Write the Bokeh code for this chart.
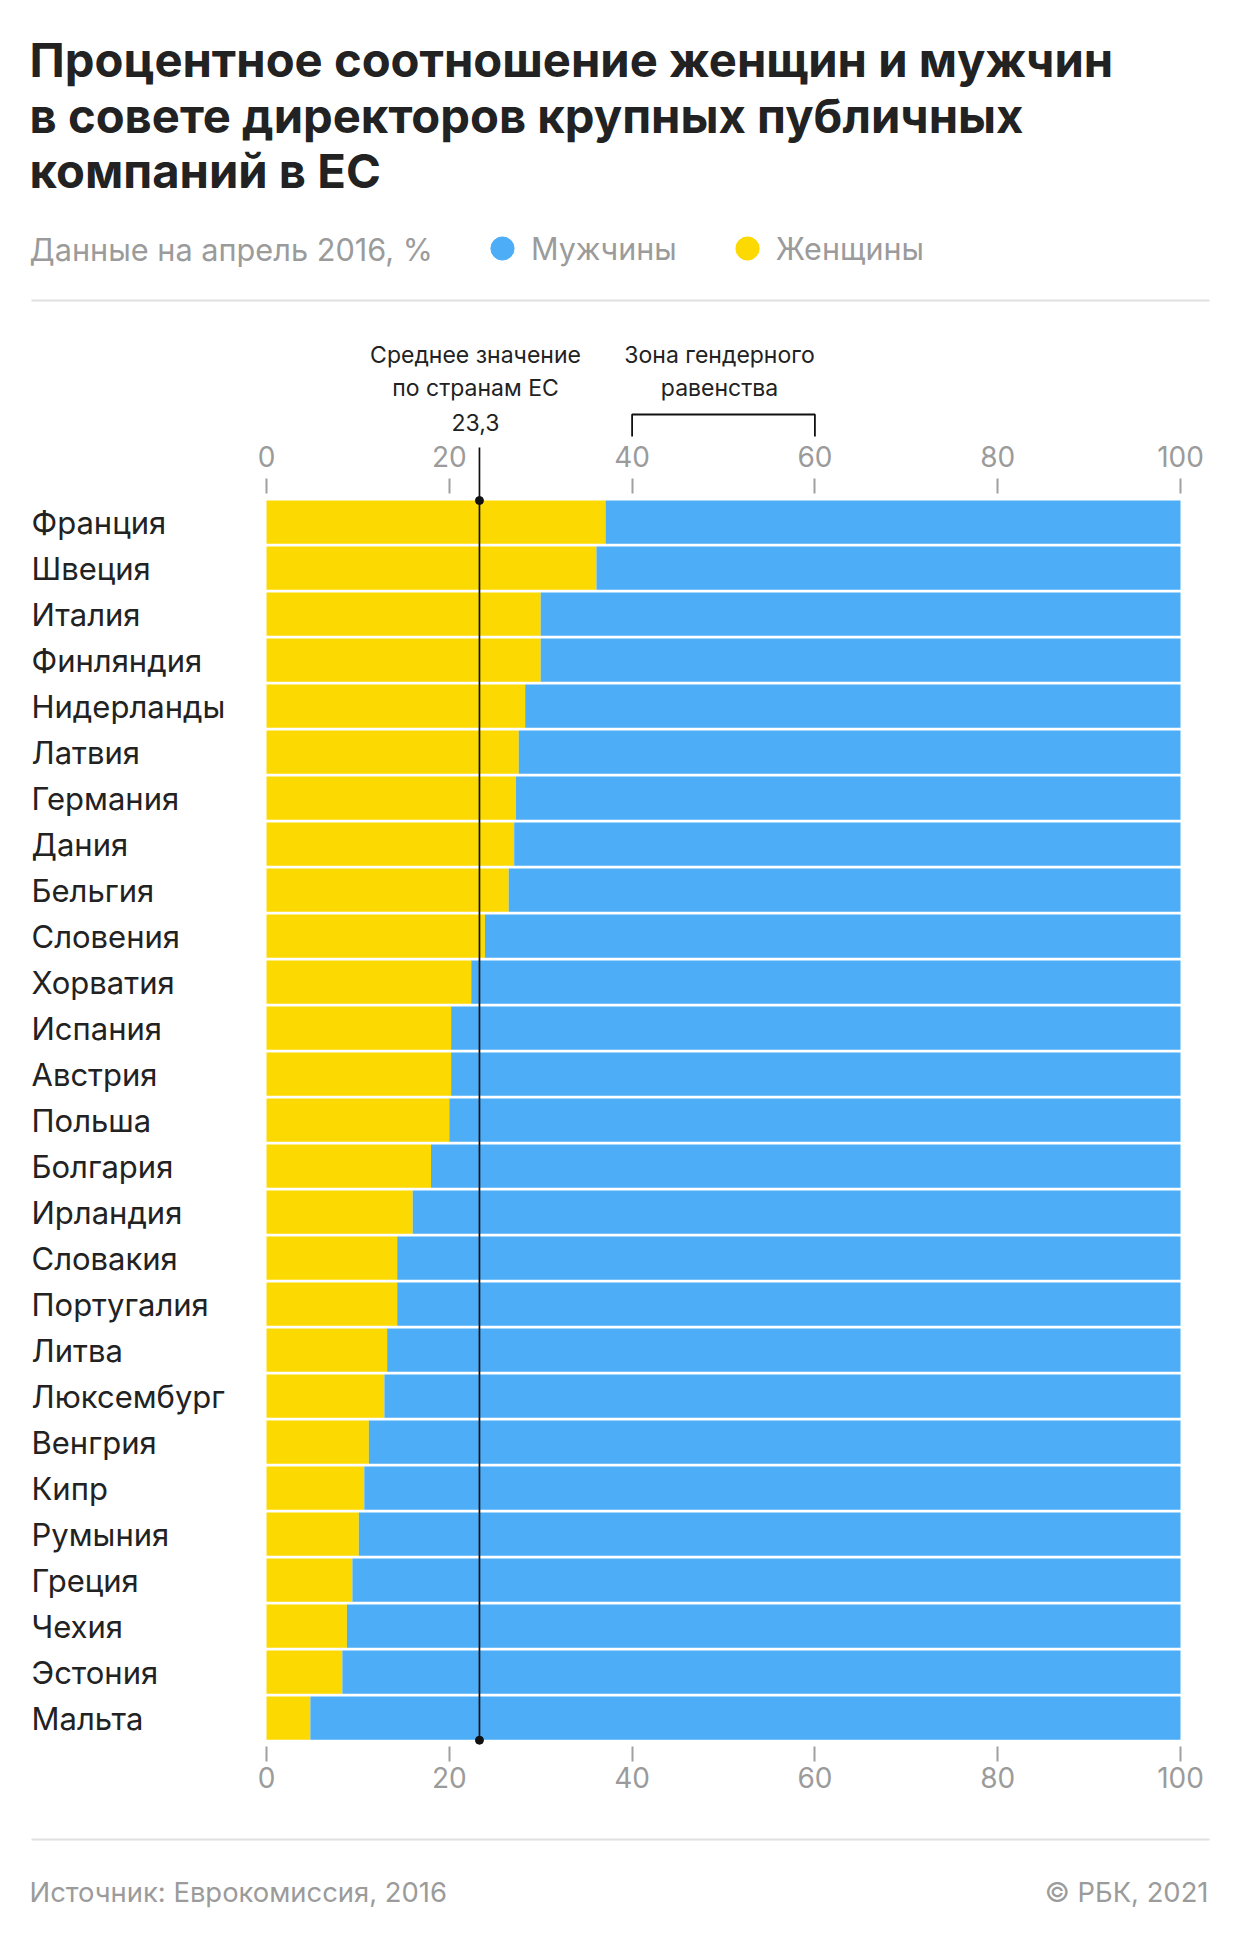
import numpy as np
from bokeh.plotting import figure
from bokeh.models import (ColumnDataSource, Range1d, LinearAxis, FixedTicker, Label,
                          LabelSet, Legend, LegendItem)
from bokeh.core.properties import value
from bokeh.embed import file_html
from bokeh.resources import INLINE

# ---------------- data ----------------
countries = ["Франция", "Швеция", "Италия", "Финляндия", "Нидерланды", "Латвия",
             "Германия", "Дания", "Бельгия", "Словения", "Хорватия", "Испания",
             "Австрия", "Польша", "Болгария", "Ирландия", "Словакия", "Португалия",
             "Литва", "Люксембург", "Венгрия", "Кипр", "Румыния", "Греция", "Чехия",
             "Эстония", "Мальта"]
women = [37.1, 36.1, 30.0, 30.0, 28.3, 27.6, 27.3, 27.1, 26.5, 23.9, 22.4, 20.2,
         20.2, 20.0, 18.0, 16.0, 14.3, 14.3, 13.2, 12.9, 11.2, 10.7, 10.1, 9.4, 8.8,
         8.3, 4.8]
men = [62.9, 63.9, 70.0, 70.0, 71.7, 72.4, 72.7, 72.9, 73.5, 76.1, 77.6, 79.8,
       79.8, 80.0, 82.0, 84.0, 85.7, 85.7, 86.8, 87.1, 88.8, 89.3, 89.9, 90.6, 91.2,
       91.7, 95.2]
eu_mean = 23.3
parity_zone = [40, 60]
x_ticks = [0, 20, 40, 60, 80, 100]

title_lines = ["Процентное соотношение женщин и мужчин",
               "в совете директоров крупных публичных",
               "компаний в ЕС"]
subtitle = "Данные на апрель 2016, %"
legend_labels = ["Мужчины", "Женщины"]
mean_lines = ["Среднее значение", "по странам ЕС"]
zone_lines = ["Зона гендерного", "равенства"]
source_text = "Источник: Еврокомиссия, 2016"
copyright_text = "© РБК, 2021"

# ---------------- style ----------------
YELLOW = "#FCD900"
BLUE = "#4DADF7"
DARK = "#222222"
GREY = "#9B9B9B"
RULE = "#E0E0E0"
FONT = "Inter"

W, H = 1224, 1924
X0_PX, X100_PX = 266, 1180        # px of x = 0 and x = 100
AX_TOP, AX_BOT = 493, 1746        # px where the tick marks start
ROW0, PITCH = 498.65, 46.0        # px of first row top, row pitch


def X(px):
    return (px - X0_PX) / (X100_PX - X0_PX) * 100.0


def Y(py):
    return (py - ROW0) / PITCH


n = len(countries)
source = ColumnDataSource(dict(country=countries, women=women, men=men,
                               y=[i + 0.5 for i in range(n)]))

# the frame covers the whole canvas, so nothing is clipped
p = figure(width=W, height=H, output_backend="svg", toolbar_location=None,
           x_range=Range1d(X(0), X(W)), y_range=Range1d(Y(H), Y(0)),
           x_axis_location="above", y_axis_location=None,
           min_border_left=0, min_border_right=0, min_border_top=0, min_border_bottom=0)
p.outline_line_color = None
p.grid.visible = False
p.background_fill_color = "white"
p.border_fill_color = "white"

p.add_layout(LinearAxis(), "below")
for ax in p.xaxis:
    ax.ticker = FixedTicker(ticks=x_ticks)
    ax.axis_line_color = None
    ax.major_tick_in = 0
    ax.major_tick_out = 15
    ax.major_tick_line_color = "#A0A0A0"
    ax.major_tick_line_width = 2
    ax.minor_tick_line_color = None
    ax.major_label_text_font = FONT
    ax.major_label_text_font_size = "28px"
    ax.major_label_text_color = GREY
p.xaxis[0].fixed_location = Y(AX_TOP)
p.xaxis[1].fixed_location = Y(AX_BOT)
p.xaxis[0].major_label_standoff = 12
p.xaxis[1].major_label_standoff = 5

# stacked bars
p.hbar_stack(["women", "men"], y="y", height=0.94, color=[YELLOW, BLUE],
             line_color=None, source=source)

# country labels
p.add_layout(LabelSet(x=X(31), y="y", text="country", source=source,
                      text_align="left", text_baseline="middle",
                      text_font=value(FONT), text_font_size="31px", text_color=DARK))

# mean line with end dots
p.segment(x0=[eu_mean], y0=[Y(447)], x1=[eu_mean], y1=[n], line_color="#111111",
          line_width=1.7)
p.scatter(x=[eu_mean, eu_mean], y=[0.03, n - 0.02], size=8, color="#111111")

# parity bracket
z0, z1 = parity_zone
p.line(x=[z0, z0, z1, z1], y=[Y(436), Y(414), Y(414), Y(436)], line_color="#111111",
       line_width=1.8)


def text(x, y, s, size, color=DARK, align="left", bold=False, font=FONT):
    p.add_layout(Label(x=x, y=y, text=s, text_align=align, text_baseline="middle",
                       text_font=font, text_font_size=size, text_color=color,
                       text_font_style="bold" if bold else "normal"))


# annotations
for t, cy in zip(mean_lines, [354.5, 387.5]):
    text(X(475), Y(cy), t, "23px", align="center")
text(X(475), Y(422), f"{eu_mean:.1f}".replace(".", ","), "23px", align="center")
for t, cy in zip(zone_lines, [354.5, 387.5]):
    text(X(719), Y(cy), t, "23px", align="center")

# title
for t, cy in zip(title_lines, [59, 115, 170]):
    text(X(29), Y(cy), t, "47.2px", bold=True)

# subtitle
text(X(29), Y(249), subtitle, "30.7px", color=GREY)

# legend (circle markers)
r_men = p.scatter(x=np.array([np.nan]), y=np.array([np.nan]), marker="circle", color=BLUE)
r_wom = p.scatter(x=np.array([np.nan]), y=np.array([np.nan]), marker="circle", color=YELLOW)
legend = Legend(items=[LegendItem(label=legend_labels[0], renderers=[r_men]),
                       LegendItem(label=legend_labels[1], renderers=[r_wom])],
                orientation="horizontal", location=(473, H - 277),
                glyph_width=58, glyph_height=58, label_standoff=-11, spacing=41,
                padding=0, margin=0, border_line_color=None, background_fill_alpha=0,
                label_text_font=FONT, label_text_font_size="30.5px",
                label_text_color=GREY)
p.add_layout(legend)

# rules
for ry in [300, 1839]:
    p.line(x=[X(31), X(1209)], y=[Y(ry), Y(ry)], line_color=RULE, line_width=2)

# footer
text(X(29), Y(1891), source_text, "27.4px", color=GREY)
text(X(1208), Y(1891), copyright_text, "27.4px", color=GREY, align="right")

open("out.html", "w").write(file_html(p, INLINE))
